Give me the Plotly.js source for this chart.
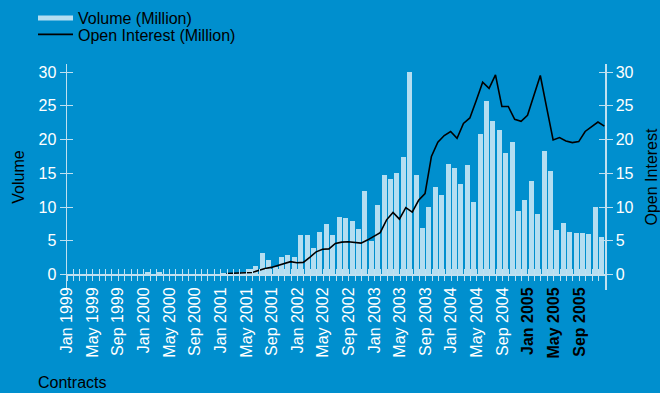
<!DOCTYPE html>
<html>
<head>
<meta charset="utf-8">
<script src="https://cdn.plot.ly/plotly-3.0.1.min.js"></script>
<style>html,body{margin:0;padding:0;background:#008FCE;}#chart{width:660px;height:393px;}</style>
</head>
<body>
<div id="chart"></div>
<script>
// Monthly data, Jan 1999 .. Dec 2005 (84 months)
const years = ['1999','2000','2001','2002','2003','2004','2005'];
const monthNames = ['Jan','Feb','Mar','Apr','May','Jun','Jul','Aug','Sep','Oct','Nov','Dec'];

// Volume (Million)
const volume = [
  0,0,0,0,0,0,0,0,0,0,0,0,
  0.35,0.1,0.35,0,0,0,0,0,0,0,0,0,
  0.2,0.2,0.25,0.4,0.8,1.25,3.15,2.1,1.1,2.6,2.85,2.6,
  5.84,5.84,3.91,6.29,7.48,5.84,8.51,8.37,7.92,6.73,12.38,4.95,
  10.3,14.75,14.16,15.05,17.43,30.05,14.75,6.88,10.0,12.97,11.78,16.39,
  15.79,13.42,16.24,10.74,20.84,25.74,22.77,21.44,18.02,19.65,9.41,11.04,
  13.86,8.96,18.32,15.35,6.58,7.62,6.29,6.14,6.14,5.99,10.0,5.54
];

// Open Interest (Million)
const openInterest = [
  null,null,null,null,null,null,null,null,null,null,null,null,
  null,null,null,null,null,null,null,null,null,null,null,null,
  0.15,0.15,0.2,0.25,0.3,0.6,0.9,1.05,1.35,1.7,1.9,1.75,
  1.8,2.55,3.35,3.75,3.8,4.6,4.8,4.85,4.8,4.65,5.1,5.6,
  6.2,8.1,9.2,8.2,9.9,9.25,11.0,12.0,17.5,19.6,20.6,21.2,
  20.2,22.4,23.2,25.8,28.5,27.6,29.6,24.9,24.9,23.0,22.7,23.6,
  26.4,29.5,24.7,19.95,20.3,19.8,19.55,19.7,21.2,21.9,22.6,22.0
];

// Labelled ticks (every 4 months)
const tickLabels = ['Jan 1999','May 1999','Sep 1999','Jan 2000','May 2000','Sep 2000',
  'Jan 2001','May 2001','Sep 2001','Jan 2002','May 2002','Sep 2002',
  'Jan 2003','May 2003','Sep 2003','Jan 2004','May 2004','Sep 2004',
  'Jan 2005','May 2005','Sep 2005'];
const boldLabels = ['Jan 2005','May 2005','Sep 2005'];
const yTicks = [0,5,10,15,20,25,30];

const months = [];
years.forEach(y => monthNames.forEach(m => months.push(m + ' ' + y)));
const n = months.length;
const idx = months.map((_, i) => i);
const xBar = idx.map(i => i + 0.5);
const xLine = idx.map(i => i + 0.9);

const tickvals = [];
const ticktext = [];
for (let i = 0; i <= n; i++) {
  tickvals.push(i);
  const lab = months[i] && tickLabels.includes(months[i]) ? months[i] : '';
  ticktext.push(boldLabels.includes(lab) ? '<span style="color:#000"><b>' + lab + '</b></span>' : lab);
}

const BG = '#008FCE';
const BAR = '#B4DEF1';
const AX = '#BFE0F0';
const FONT = 'Liberation Sans, Arial, sans-serif';

const yr = [-2.3, 31.2];
const xr = [0, n];
const pos = 2.3 / 33.5;

const traces = [
  {type:'bar', x:xBar, y:volume, marker:{color:BAR, line:{width:0}}, width:0.78,
   showlegend:false, hoverinfo:'skip'},
  {type:'scatter', mode:'lines', x:xLine, y:openInterest, yaxis:'y2',
   line:{color:'#000', width:1.6}, showlegend:false, connectgaps:false, hoverinfo:'skip'},
  // legend entries
  {type:'scatter', mode:'lines', x:[null], y:[null], name:'Volume (Million)',
   line:{color:BAR, width:5}, legend:'legend'},
  {type:'scatter', mode:'lines', x:[null], y:[null], name:'Open Interest (Million)',
   line:{color:'#000', width:1.6}, legend:'legend2'},
  // helpers for inner tick halves
  {type:'scatter', mode:'lines', x:[null], y:[null], xaxis:'x2', yaxis:'y3', showlegend:false},
  {type:'scatter', mode:'lines', x:[null], y:[null], xaxis:'x2', yaxis:'y4', showlegend:false}
];

const axBase = {color:'#fff', linecolor:AX, tickcolor:AX, showgrid:false, zeroline:false,
  tickfont:{family:FONT, size:16, color:'#fff'}, fixedrange:true, automargin:false};

const PW = 538, PH = 226;
function px2paperX(px) { return (px - 67) / PW; }
function px2paperY(py) { return (290 - py) / PH; }

const legBase = {xref:'paper', yref:'paper', xanchor:'left', yanchor:'top',
  bgcolor:'rgba(0,0,0,0)', font:{family:FONT, size:16, color:'#000'}, itemwidth:35,
  borderwidth:0};

const layout = {
  width:660, height:393,
  paper_bgcolor:BG, plot_bgcolor:BG,
  margin:{l:67, r:55, t:64, b:103, autoexpand:false},
  font:{family:FONT, size:16, color:'#fff'},
  bargap:0,
  showlegend:true,
  legend:Object.assign({}, legBase, {x:px2paperX(33), y:px2paperY(1)}),
  legend2:Object.assign({}, legBase, {x:px2paperX(33), y:px2paperY(17.5)}),
  xaxis:Object.assign({}, axBase, {range:xr, anchor:'free', position:pos, tickmode:'array',
    tickvals:tickvals, ticktext:ticktext, tickangle:-90, ticks:'outside', ticklen:5, tickwidth:1,
    showline:true, linewidth:1.5}),
  xaxis2:Object.assign({}, axBase, {range:xr, overlaying:'x', anchor:'free', position:pos,
    tickmode:'array', tickvals:tickvals, ticks:'inside', ticklen:5, tickwidth:1,
    showticklabels:false, showline:false}),
  yaxis:Object.assign({}, axBase, {range:yr, tickmode:'array', tickvals:yTicks, ticks:'outside',
    ticklen:6, tickwidth:1, showline:true, linewidth:1.5,
    title:{text:'Volume', font:{family:FONT, size:16, color:'#000'}, standoff:10}}),
  yaxis2:Object.assign({}, axBase, {range:yr, overlaying:'y', side:'right', tickmode:'array',
    tickvals:yTicks, ticks:'outside', ticklen:6, tickwidth:1, showline:true, linewidth:1.5,
    title:{text:'Open Interest', font:{family:FONT, size:16, color:'#000'}, standoff:17}}),
  yaxis3:Object.assign({}, axBase, {range:yr, overlaying:'y', side:'left', tickmode:'array',
    tickvals:yTicks, ticks:'inside', ticklen:6, tickwidth:1, showticklabels:false, showline:false}),
  yaxis4:Object.assign({}, axBase, {range:yr, overlaying:'y', side:'right', tickmode:'array',
    tickvals:yTicks, ticks:'inside', ticklen:6, tickwidth:1, showticklabels:false, showline:false}),
  annotations:[{text:'Contracts', xref:'paper', yref:'paper', x:px2paperX(36), y:px2paperY(383),
    xanchor:'left', yanchor:'middle', showarrow:false, font:{family:FONT, size:16, color:'#000'}}]
};

Plotly.newPlot('chart', traces, layout, {staticPlot:true, displayModeBar:false});
</script>
</body>
</html>
